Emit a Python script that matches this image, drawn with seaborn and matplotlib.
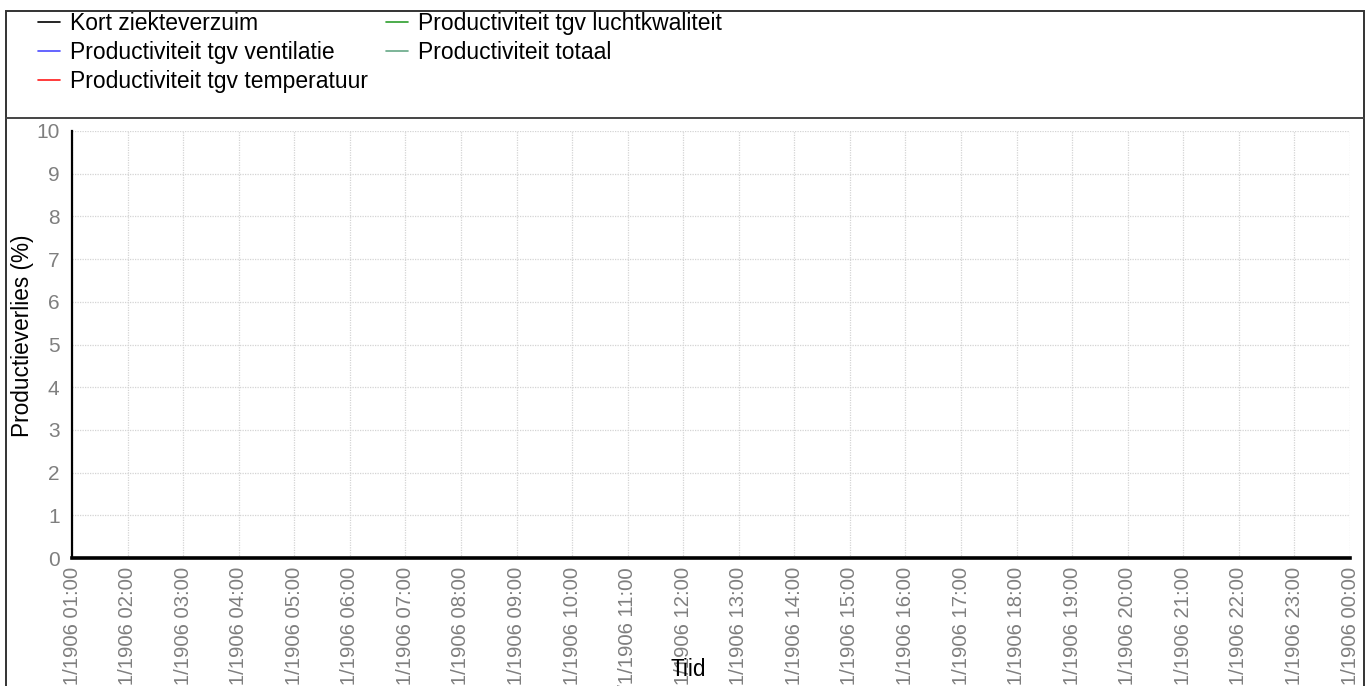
import pandas as pd
import seaborn as sns
import matplotlib.pyplot as plt
from matplotlib.patches import Rectangle
from matplotlib.lines import Line2D

# --------------------------------------------------
# Data
# --------------------------------------------------

times = pd.date_range("1906-01-01 01:00", "1906-01-02 00:00", freq="h")

series_names = [
    "Kort ziekteverzuim",
    "Productiviteit tgv ventilatie",
    "Productiviteit tgv temperatuur",
    "Productiviteit tgv luchtkwaliteit",
    "Productiviteit totaal",
]

kort_ziekteverzuim = [0, 0, 0, 0, 0, 0, 0, 0, 0, 0, 0, 0,
                      0, 0, 0, 0, 0, 0, 0, 0, 0, 0, 0, 0]
prod_ventilatie = [0, 0, 0, 0, 0, 0, 0, 0, 0, 0, 0, 0,
                   0, 0, 0, 0, 0, 0, 0, 0, 0, 0, 0, 0]
prod_temperatuur = [0, 0, 0, 0, 0, 0, 0, 0, 0, 0, 0, 0,
                    0, 0, 0, 0, 0, 0, 0, 0, 0, 0, 0, 0]
prod_luchtkwaliteit = [0, 0, 0, 0, 0, 0, 0, 0, 0, 0, 0, 0,
                       0, 0, 0, 0, 0, 0, 0, 0, 0, 0, 0, 0]
prod_totaal = [0, 0, 0, 0, 0, 0, 0, 0, 0, 0, 0, 0,
               0, 0, 0, 0, 0, 0, 0, 0, 0, 0, 0, 0]

colors = ["#000000", "#4a4aff", "#ff1a1a", "#2e9e2e", "#66a886"]

y_ticks = [0, 1, 2, 3, 4, 5, 6, 7, 8, 9, 10]

df = pd.concat(
    [
        pd.DataFrame({"Tijd": times, "waarde": vals, "reeks": name})
        for name, vals in zip(
            series_names,
            [kort_ziekteverzuim, prod_ventilatie, prod_temperatuur,
             prod_luchtkwaliteit, prod_totaal],
        )
    ],
    ignore_index=True,
)

# --------------------------------------------------
# Plot
# --------------------------------------------------

sns.set_style("white")
plt.rcParams["font.family"] = ["Liberation Sans", "DejaVu Sans"]
plt.rcParams["text.color"] = "black"

W, H = 1369, 686
fig = plt.figure(figsize=(W / 100, H / 100), dpi=100)
ax = fig.add_axes([72 / W, 1 - 558 / H, (1350 - 72) / W, (558 - 131) / H])

sns.lineplot(
    data=df,
    x="Tijd",
    y="waarde",
    hue="reeks",
    palette=dict(zip(series_names, colors)),
    linewidth=1.2,
    ax=ax,
)

ax.set_xlim(times[0], times[-1])
ax.set_ylim(0, 10)
ax.set_yticks(y_ticks)
ax.set_xticks(times)
ax.set_xticklabels(
    [f"{t.day}/{t.month}/{t.year} {t:%H:%M}" for t in times],
    rotation=90,
)

grid_style = dict(color="#d4d4d4", linewidth=0.9, linestyle=(0, (1, 1)))
ax.grid(True, **grid_style)
ax.set_axisbelow(True)

ax.tick_params(axis="x", length=0, pad=6.5, labelsize=14.6, labelcolor="#7f7f7f")
ax.tick_params(axis="y", length=0, pad=9, labelsize=15, labelcolor="#7f7f7f")

for side in ["top", "right"]:
    ax.spines[side].set_visible(False)
ax.spines["left"].set_linewidth(1.6)
ax.spines["left"].set_color("black")
ax.spines["bottom"].set_linewidth(2.6)
ax.spines["bottom"].set_color("black")

ax.set_ylabel("Productieverlies (%)", fontsize=16.3, color="black")
ax.yaxis.set_label_coords(-0.030, 0.52)
ax.set_xlabel("Tiid", fontsize=16.3, color="black")
ax.xaxis.set_label_coords(0.482, -0.235)

handles, labels = ax.get_legend_handles_labels()
ax.get_legend().remove()
fig.legend(
    handles,
    labels,
    ncol=2,
    loc="upper left",
    bbox_to_anchor=(38 / W, 1 - 12 / H),
    frameon=False,
    fontsize=16.5,
    labelcolor="black",
    borderpad=0,
    borderaxespad=0,
    handlelength=0.96,
    handletextpad=0.44,
    columnspacing=0.79,
    labelspacing=0.26,
)

# outer frame and separator under the legend
fig.add_artist(Rectangle(
    (6 / W, -0.05), (1364 - 6) / W, 1.05 - 11 / H,
    transform=fig.transFigure, fill=False,
    edgecolor="#333333", linewidth=1.4,
))
fig.add_artist(Line2D(
    [6 / W, 1364 / W], [1 - 117.5 / H, 1 - 117.5 / H],
    transform=fig.transFigure, color="#444444", linewidth=1.4,
))

fig.savefig("out.png", dpi=100)
